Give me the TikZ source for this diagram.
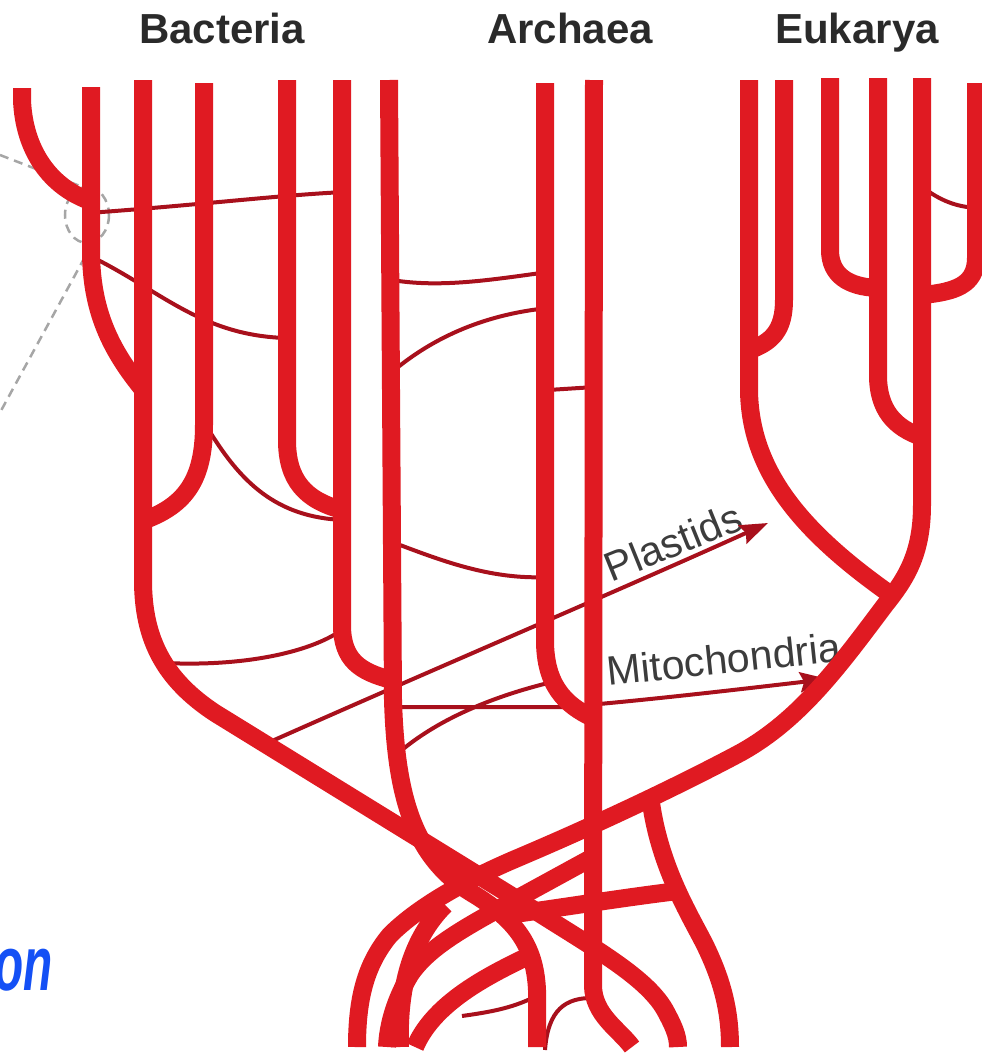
\documentclass[tikz,border=0pt]{standalone}
\usepackage{fontspec}
\setmainfont{Liberation Sans}
\usetikzlibrary{arrows.meta}
\definecolor{br}{HTML}{E01A22}
\definecolor{thin}{HTML}{A8101C}
\definecolor{lab}{HTML}{2A2A2A}
\definecolor{lab2}{HTML}{3C3C3C}
\definecolor{ttl}{HTML}{1450F5}
\begin{document}
\begin{tikzpicture}[x=1pt,y=-1pt,
  branch/.style={draw=br,line width=18pt,line cap=butt,line join=round},
  hgt/.style={draw=thin,line width=4pt,line cap=butt},
  hgtarrow/.style={hgt,-{Stealth[length=28pt,width=20pt,inset=4pt]}},
  dashline/.style={draw=gray!70,line width=2.5pt,dash pattern=on 9pt off 6pt},
  head/.style={font=\bfseries\fontsize{42}{42}\selectfont,text=lab,anchor=base,inner sep=0pt},
  tag/.style={font=\fontsize{41}{41}\selectfont,text=lab2,inner sep=0pt}]
\useasboundingbox (0,0) rectangle (982,1053);
% labels
\node[head] (bac) at (222,43) {Bacteria};
\node[head] (arc) at (570,43) {Archaea};
\node[head] (euk) at (857,43) {Eukarya};
\node[tag,rotate=22] (pla) at (673,542) {Plastids};
\node[tag,rotate=6] (mit) at (724,659) {Mitochondria};
\node[font=\bfseries\itshape\fontsize{77}{77}\selectfont,text=ttl,anchor=base east,inner sep=0pt] (ttl) at (53,990) {\scalebox{0.62}[1]{on}};
% dashed callout
\draw[dashline] (0,155) -- (80,186);
\draw[dashline] (87,215) ellipse [x radius=22, y radius=28];
\draw[dashline] (92,244) -- (-15,440);
% gene transfer lines
\draw[hgt] (88,213) .. controls (200,205) and (280,195) .. (345,192);
\draw[hgt] (90,256) .. controls (160,290) and (200,335) .. (285,338);
\draw[hgt] (210,432) .. controls (240,480) and (275,518) .. (345,520);
\draw[hgt] (392,280) .. controls (440,288) and (490,280) .. (548,272);
\draw[hgt] (392,372) .. controls (430,340) and (480,315) .. (548,308);
\draw[hgt] (548,390) -- (595,387);
\draw[hgt] (392,542) .. controls (440,560) and (490,580) .. (548,577);
\draw[hgt] (165,663) .. controls (250,667) and (320,650) .. (348,625);
\draw[hgt] (396,755) .. controls (430,725) and (480,700) .. (548,683);
\draw[hgt] (922,187) .. controls (940,200) and (955,207) .. (978,208);
\draw[hgt] (462,1016) .. controls (490,1012) and (515,1008) .. (540,994);
\draw[hgt] (545,1050) .. controls (548,1010) and (565,997) .. (595,998);
\draw[hgtarrow] (263,745) .. controls (420,675) and (620,590) .. (768,523);
\draw[hgtarrow] (392,707) -- (565,707) .. controls (650,700) and (750,688) .. (828,679);
% Bacteria
\draw[branch] (22,88) -- (22,100) .. controls (24,150) and (50,188) .. (93,202);
\draw[branch] (91,87) -- (91,250) .. controls (91,310) and (110,350) .. (145,392);
\draw[branch] (204,83) -- (204,425) .. controls (204,480) and (185,505) .. (145,520);
\draw[branch] (287,80) -- (287,440) .. controls (287,480) and (305,500) .. (342,510);
\draw[branch] (143,80) -- (143,580) .. controls (143,640) and (165,680) .. (215,713) -- (520,901) .. controls (588,945) and (645,975) .. (665,1010) .. controls (673,1025) and (678,1035) .. (678,1047);
\draw[branch] (342,80) -- (342,625) .. controls (342,660) and (360,672) .. (392,680);
\draw[branch] (389,80) -- (393,700) .. controls (396,800) and (415,860) .. (475,895) .. controls (515,920) and (535,945) .. (537,990) -- (537,1047);
% Archaea
\draw[branch] (545,83) -- (545,640) .. controls (545,685) and (565,705) .. (593,718);
\draw[branch] (594,80) -- (593,985) .. controls (593,1015) and (620,1030) .. (632,1047);
% Eukarya
\draw[branch] (749,80) -- (749,390) .. controls (750,470) and (800,530) .. (887,592);
\draw[branch] (784,80) -- (784,300) .. controls (784,330) and (772,342) .. (750,350);
\draw[branch] (830,78) -- (830,250) .. controls (830,275) and (848,287) .. (878,288);
\draw[branch] (878,78) -- (878,375) .. controls (878,410) and (895,428) .. (922,437);
\draw[branch] (976,83) -- (976,258) .. controls (976,285) and (955,292) .. (922,295);
\draw[branch] (922,78) -- (922,505) .. controls (922,555) and (905,580) .. (885,605) .. controls (840,665) and (800,720) .. (740,753) .. controls (680,785) and (600,823) .. (520,857) .. controls (470,878) and (420,905) .. (390,935) .. controls (365,965) and (357,1000) .. (357,1047);
% tangle at the root
\draw[branch] (650,795) .. controls (658,865) and (690,915) .. (705,945) .. controls (722,980) and (730,1010) .. (730,1047);
\draw[branch] (500,916) .. controls (560,908) and (620,898) .. (678,891);
\draw[branch] (595,856) -- (520,897) .. controls (470,925) and (430,945) .. (410,975) .. controls (395,1000) and (388,1025) .. (387,1047);
\draw[branch] (537,952) .. controls (495,972) and (435,1000) .. (415,1047);
\draw[branch] (445,905) .. controls (410,940) and (398,990) .. (400,1047);
\end{tikzpicture}
\end{document}
